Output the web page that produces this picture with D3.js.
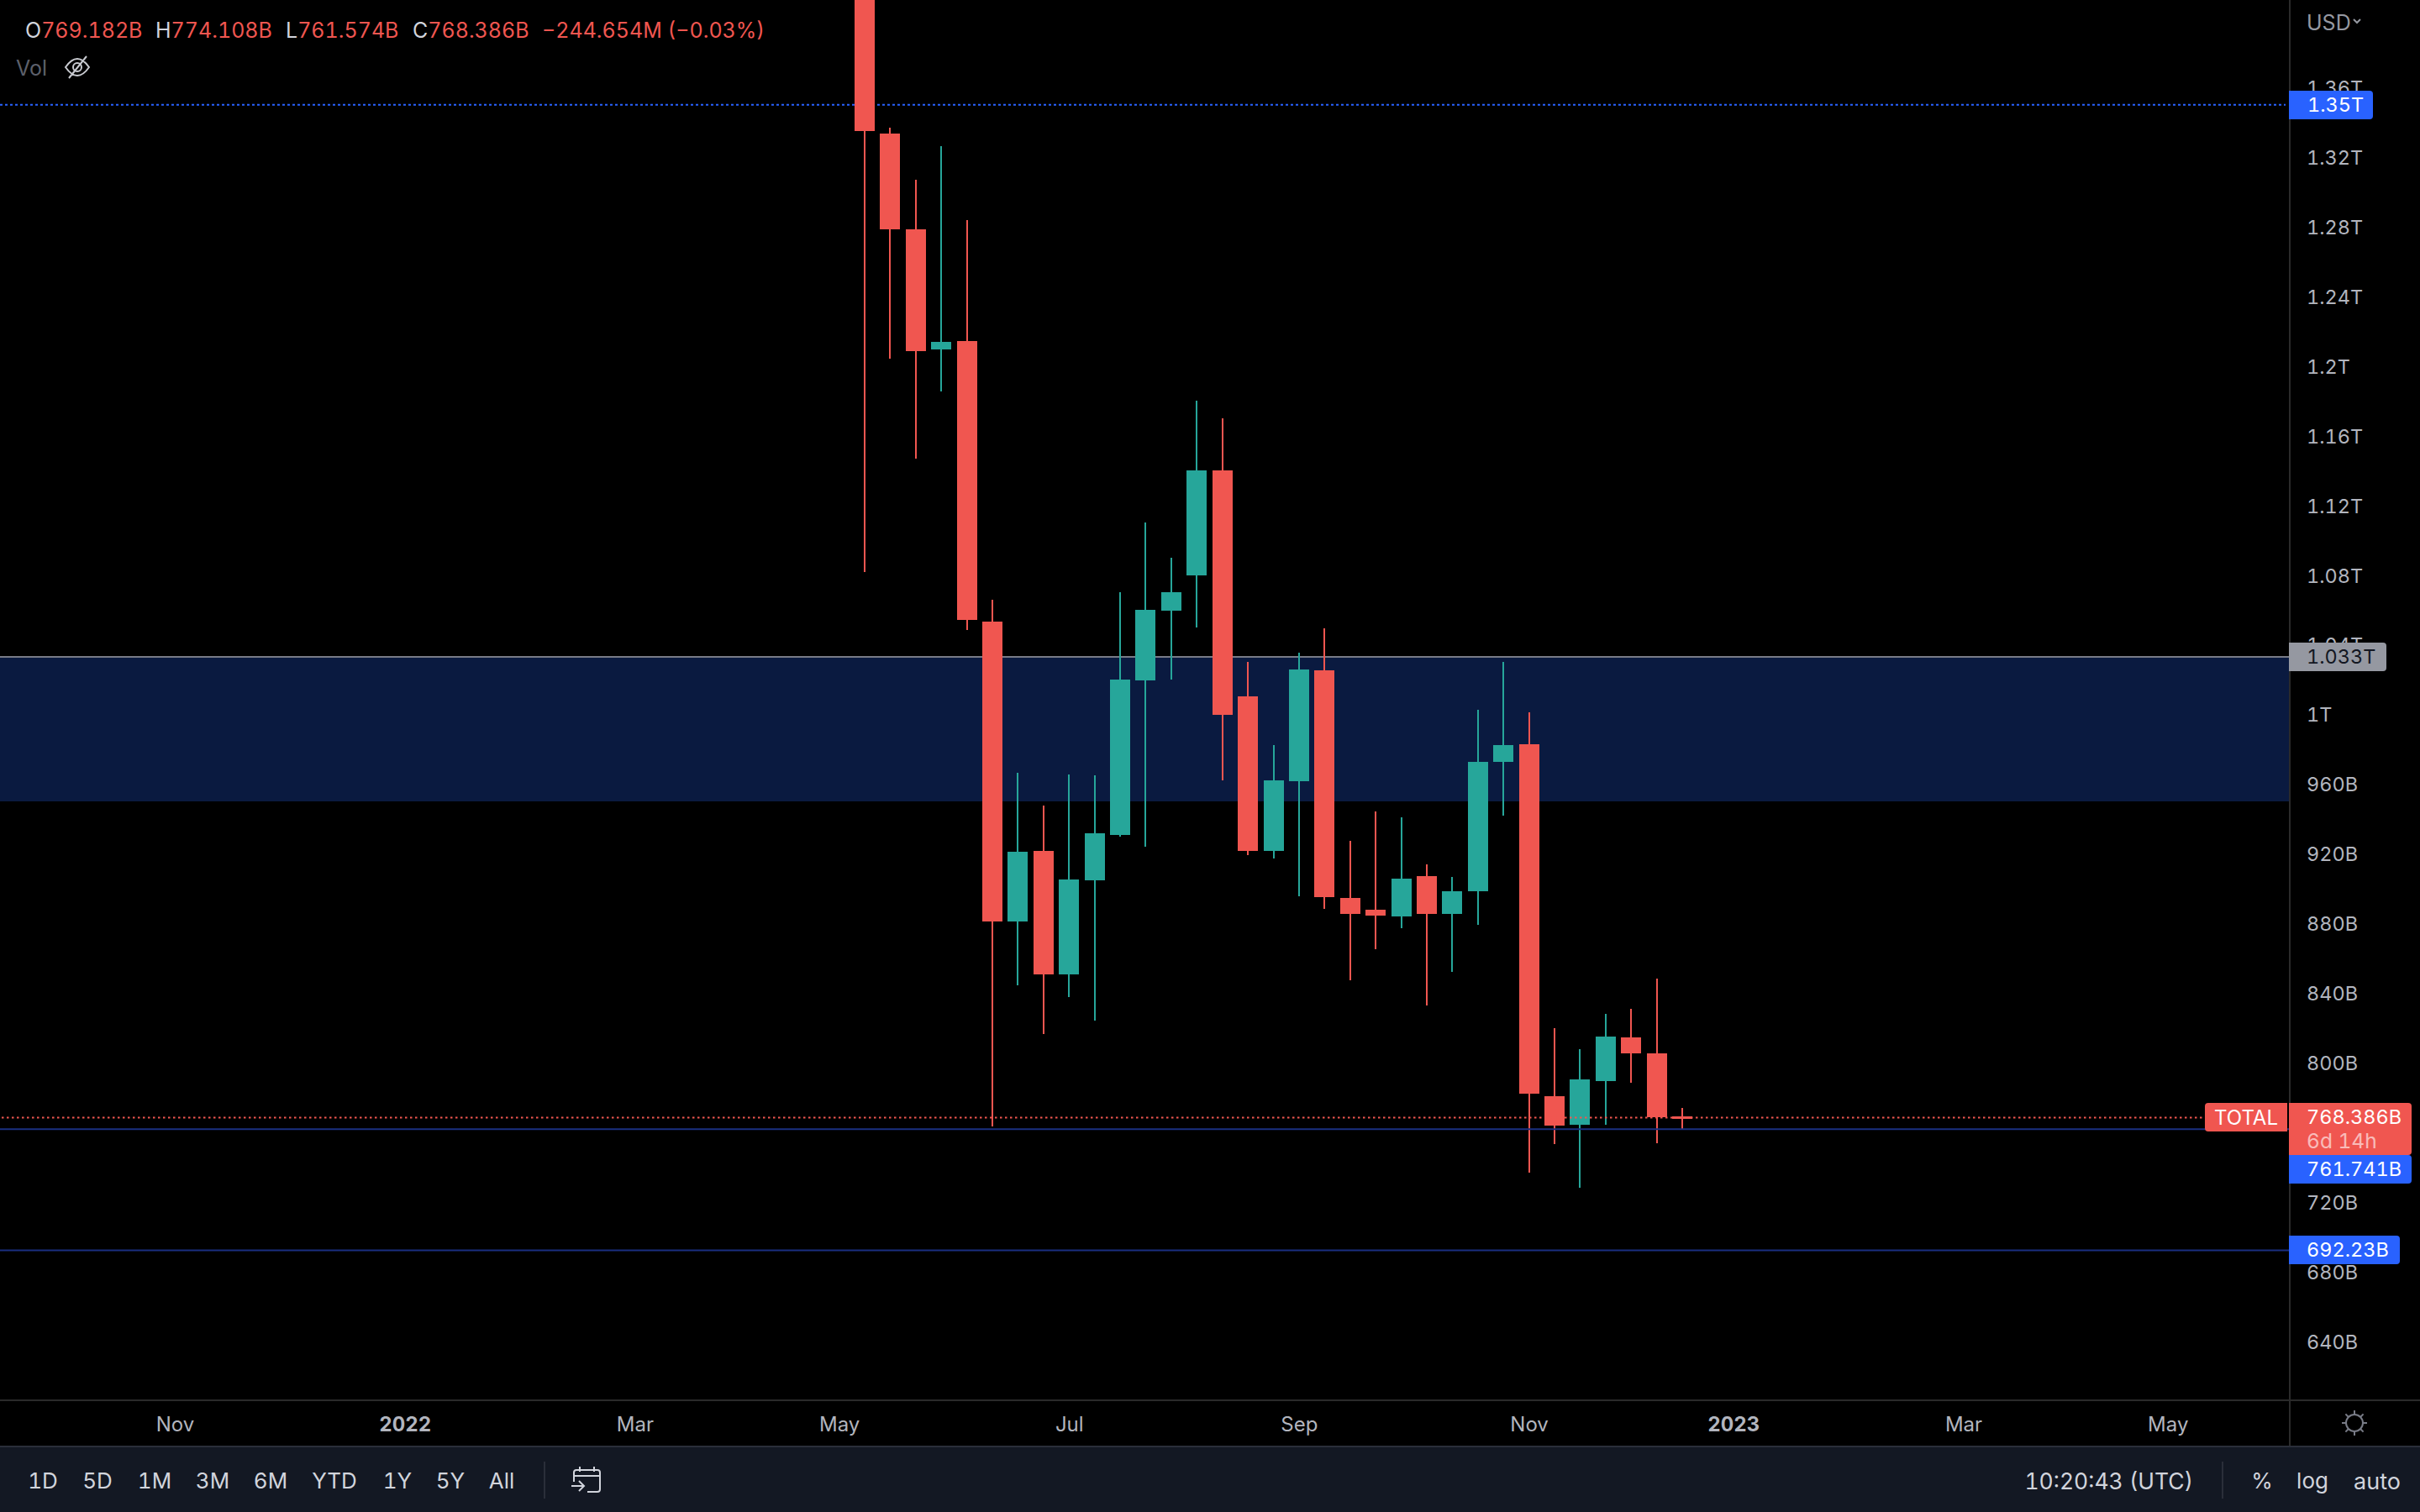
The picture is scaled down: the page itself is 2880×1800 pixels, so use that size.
<!DOCTYPE html>
<html>
<head>
<meta charset="utf-8">
<script src="https://cdn.jsdelivr.net/npm/d3@7"></script>
<style>
  html, body { margin: 0; padding: 0; background: #000; overflow: hidden; }
  text { font-family: "Inter", "Liberation Sans", sans-serif; font-variant-numeric: tabular-nums; font-feature-settings: "tnum" 1; }
  .tick line, .domain { display: none; }
</style>
</head>
<body>
<script>
// weekly candles, values in billions USD
var dates = ["2022-05-02","2022-05-09","2022-05-16","2022-05-23","2022-05-30","2022-06-06","2022-06-13",
    "2022-06-20","2022-06-27","2022-07-04","2022-07-11","2022-07-18","2022-07-25","2022-08-01","2022-08-08",
    "2022-08-15","2022-08-22","2022-08-29","2022-09-05","2022-09-12","2022-09-19","2022-09-26","2022-10-03",
    "2022-10-10","2022-10-17","2022-10-24","2022-10-31","2022-11-07","2022-11-14","2022-11-21","2022-11-28",
    "2022-12-05","2022-12-12"];
var opens = [1480,1333.5,1278.5,1209.6,1214.4,1053.3,881,921.6,850.7,904.7,930.7,1019.5,1059.5,1079.8,1140.1,
    1010.3,921.6,961.6,1025.3,894.6,887.8,883.9,907.1,885.4,898.4,972.7,982.8,780.7,764.3,789.4,814.5,805.3,769.182];
var highs = [1490,1336.9,1307,1326.3,1283.8,1065.8,966.4,947.6,965.5,965,1070.1,1110.2,1089.9,1180.1,1170,
    1030.1,982.3,1035.4,1049.4,927.4,944.2,940.9,913.8,906.6,1002.6,1030.1,1001.2,819.8,807.7,828,830.9,848.2,774.108];
var lows = [1081.7,1204.3,1146.8,1185.4,1048.4,763.3,844.4,816.4,837.6,824.1,929.8,924,1020,1049.9,962.1,
    919.2,917.2,895.5,888.3,847.3,865.1,877.2,832.8,852.1,879.1,941.8,736.8,753.2,728.1,764.3,788.4,753.7,761.574];
var closes = [1334.7,1278.5,1208.6,1213.9,1054.2,881,921.1,850.7,905.2,931.7,1020,1060,1070.1,1140.1,999.7,
    921.6,962.1,1025.8,895,885.4,884.4,905.6,885.4,898.4,972.7,982.3,782.2,763.8,790.4,815,805.3,768.6,768.386];

var priceTicks = [640,680,720,760,800,840,880,920,960,1000,1040,1080,1120,1160,1200,1240,1280,1320,1360];
var timeTickDates = ["2021-10-25","2021-12-27","2022-02-28","2022-04-25","2022-06-27","2022-08-29","2022-10-31",
    "2022-12-26","2023-02-27","2023-04-24"];
var timeTickLabels = ["Nov","2022","Mar","May","Jul","Sep","Nov","2023","Mar","May"];
var rangeButtons = ["1D","5D","1M","3M","6M","YTD","1Y","5Y","All"];
var rangeButtonX = [51,116,184,253,322,398,473,536,597];
var zone = [950, 1033];
var resistance = 1350, support1 = 761.741, support2 = 692.23, lastPrice = 768.386;

var width = 2880, height = 1800, paneRight = 2725, paneBottom = 1667, axisBottom = 1722;
var red = "#f05650", green = "#26a69a", blue = "#2962ff", textGrey = "#b2b5be";

var parse = d3.utcParse("%Y-%m-%d");

var x = d3.scaleUtc().domain([parse("2022-05-02"), parse("2022-12-12")]).range([1029, 2002]);
var y = d3.scaleLinear().domain([800, 1360]).range([1265, 104]);

var candles = dates.map((d, i) => ({ date: parse(d), o: opens[i], h: highs[i], l: lows[i], c: closes[i] }));

var svg = d3.select("body").append("svg")
    .attr("width", width)
    .attr("height", height)
    .style("display", "block");

svg.append("rect").attr("width", width).attr("height", height).attr("fill", "#000");

svg.append("clipPath").attr("id", "clip")
    .append("rect").attr("width", paneRight).attr("height", paneBottom);

var pane = svg.append("g").attr("clip-path", "url(#clip)");

// blue zone
pane.append("rect")
    .attr("x", 0).attr("width", paneRight)
    .attr("y", y(zone[1])).attr("height", y(zone[0]) - y(zone[1]))
    .attr("fill", "#0a1a40");
pane.append("line")
    .attr("x1", 0).attr("x2", paneRight)
    .attr("y1", y(zone[1])).attr("y2", y(zone[1]))
    .attr("stroke", "#787b86").attr("stroke-width", 2);

pane.append("line")
    .attr("x1", 0).attr("x2", 2720)
    .attr("y1", y(resistance)).attr("y2", y(resistance))
    .attr("stroke", blue).attr("stroke-width", 2).attr("stroke-dasharray", "3 3");

var candle = pane.selectAll(".candle")
    .data(candles)
    .enter()
    .append("g")
    .attr("class", "candle")
    .attr("fill", d => d.c >= d.o ? green : red);

candle.append("rect")
    .attr("x", d => Math.round(x(d.date)) - 1)
    .attr("width", 2)
    .attr("y", d => Math.round(y(d.h)))
    .attr("height", d => Math.round(y(d.l)) - Math.round(y(d.h)));

candle.append("rect")
    .attr("x", d => Math.round(x(d.date)) - 12)
    .attr("width", 24)
    .attr("y", d => Math.round(y(Math.max(d.o, d.c))))
    .attr("height", d => Math.max(3, Math.round(y(Math.min(d.o, d.c))) - Math.round(y(Math.max(d.o, d.c)))));

[support1, support2].forEach(v => {
    pane.append("line")
        .attr("x1", 0).attr("x2", paneRight)
        .attr("y1", y(v)).attr("y2", y(v))
        .attr("stroke", "#1a2f80").attr("stroke-width", 2);
});

pane.append("line")
    .attr("x1", 2).attr("x2", 2624)
    .attr("y1", y(lastPrice)).attr("y2", y(lastPrice))
    .attr("stroke", red).attr("stroke-width", 2).attr("stroke-dasharray", "2.5 3.5");

// frame lines
svg.append("rect").attr("x", paneRight - 1).attr("width", 2).attr("height", axisBottom).attr("fill", "#2a2a2a");
svg.append("rect").attr("y", paneBottom - 1).attr("width", width).attr("height", 2).attr("fill", "#2a2a2a");

// axes
var yAxis = d3.axisRight(y)
    .tickValues(priceTicks)
    .tickSize(0)
    .tickPadding(0)
    .tickFormat(d => d >= 1000 ? (d / 1000) + "T" : d + "B");

svg.append("g")
    .attr("transform", "translate(2745,1)")
    .call(yAxis)
    .call(g => g.selectAll("text")
        .attr("fill", textGrey)
        .style("font-family", "Inter")
        .style("font-size", "23.5px"));

var xAxis = d3.axisBottom(x)
    .tickValues(timeTickDates.map(parse))
    .tickSize(0)
    .tickPadding(0)
    .tickFormat((d, i) => timeTickLabels[i]);

svg.append("g")
    .attr("transform", "translate(0,1687)")
    .call(xAxis)
    .call(g => g.selectAll("text")
        .attr("fill", textGrey)
        .attr("dy", "0.71em")
        .attr("y", 0)
        .style("font-family", "Inter")
        .style("font-size", "24px")
        .style("font-weight", (d, i) => /^\d/.test(timeTickLabels[i]) ? 700 : 400));

// bottom toolbar
svg.append("rect").attr("y", axisBottom).attr("width", width).attr("height", height - axisBottom).attr("fill", "#131823");
svg.append("rect").attr("y", axisBottom - 1).attr("width", width).attr("height", 2).attr("fill", "#2a2e39");

function label(text, xPos, yPos, anchor, color, size, opacity) {
    return svg.append("text")
        .attr("x", xPos).attr("y", yPos)
        .attr("dy", "0.36em")
        .attr("text-anchor", anchor || "start")
        .attr("fill", color || textGrey)
        .attr("font-size", size || 23.5)
        .attr("opacity", opacity == null ? 1 : opacity)
        .text(text);
}

rangeButtons.forEach((b, i) => label(b, rangeButtonX[i], 1763, "middle", "#d1d4dc", 26));
label("10:20:43 (UTC)", 2610, 1763, "end", "#d1d4dc", 26.5);
label("%", 2692, 1763, "middle", "#d1d4dc", 26);
label("log", 2752, 1763, "middle", "#d1d4dc", 26);
label("auto", 2829, 1763, "middle", "#d1d4dc", 27);

svg.append("rect").attr("x", 647).attr("y", 1740).attr("width", 2).attr("height", 44).attr("fill", "#2a2e39");
svg.append("rect").attr("x", 2644).attr("y", 1740).attr("width", 2).attr("height", 44).attr("fill", "#2a2e39");

// calendar icon
svg.append("path")
    .attr("d", "M683 1764V1753Q683 1750 686 1750H711Q714 1750 714 1753V1773Q714 1776 711 1776H699M683 1757H714M690 1746V1752M707 1746V1752M680 1769H695M689 1763L695 1769L689 1775")
    .attr("fill", "none").attr("stroke", "#d1d4dc").attr("stroke-width", 2);

// theme (sun) icon
var sun = svg.append("g").attr("transform", "translate(2802,1694)")
    .attr("fill", "none").attr("stroke", "#787b86").attr("stroke-width", 2);
sun.append("circle").attr("r", 10);
d3.range(8).forEach(i => sun.append("line").attr("x1", 0).attr("x2", 0).attr("y1", -10).attr("y2", -15)
    .attr("transform", "rotate(" + i * 45 + ")"));

// price labels
function tag(xPos, yPos, w, h, rl, rr, fill) {
    svg.append("path")
        .attr("d", "M" + (xPos + rl) + " " + yPos + "H" + (xPos + w - rr)
            + "Q" + (xPos + w) + " " + yPos + " " + (xPos + w) + " " + (yPos + rr)
            + "V" + (yPos + h - rr)
            + "Q" + (xPos + w) + " " + (yPos + h) + " " + (xPos + w - rr) + " " + (yPos + h)
            + "H" + (xPos + rl)
            + "Q" + xPos + " " + (yPos + h) + " " + xPos + " " + (yPos + h - rl)
            + "V" + (yPos + rl)
            + "Q" + xPos + " " + yPos + " " + (xPos + rl) + " " + yPos + "Z")
        .attr("fill", fill);
}

tag(2724, 108, 100, 34, 0, 4, blue);
label("1.35T", 2746, 125, "start", "#fff");
tag(2724, 765, 116, 34, 0, 4, "#9598a1");
label("1.033T", 2745, 782, "start", "#131722");
tag(2624, 1313, 98, 34, 4, 0, red);
label("TOTAL", 2673, 1330, "middle", "#fff", 24);
tag(2724, 1375, 146, 34, 0, 4, blue);
label("761.741B", 2745, 1392, "start", "#fff");
tag(2724, 1313, 146, 62, 0, 4, red);
label("768.386B", 2745, 1330, "start", "#fff");
label("6d 14h", 2745, 1358, "start", "#fff", 24.5, 0.6);
tag(2724, 1471, 132, 34, 0, 4, blue);
label("692.23B", 2745, 1488, "start", "#fff");

// header
label("USD", 2745, 27, "start", "#9598a1", 25);
svg.append("path").attr("d", "M2801 23L2805 27L2809 23")
    .attr("fill", "none").attr("stroke", "#9598a1").attr("stroke-width", 2);

var ohlc = [["O", "769.182B", 30], ["H", "774.108B", 185], ["L", "761.574B", 340], ["C", "768.386B", 491]];
ohlc.forEach(d => {
    svg.append("text").attr("x", d[2]).attr("y", 36).attr("dy", "0.36em").attr("font-size", 25)
        .call(t => t.append("tspan").attr("fill", "#d1d4dc").text(d[0]))
        .call(t => t.append("tspan").attr("fill", red).text(d[1]));
});
label("\u2212244.654M (\u22120.03%)", 645, 36, "start", red, 25);
label("Vol", 19, 81, "start", "#5d606b", 25);

// hidden-volume eye icon
svg.append("path")
    .attr("d", "M78 80Q85 70 92 70Q99 70 106 80Q99 90 92 90Q85 90 78 80ZM87 80A5 5 0 1 1 97 80A5 5 0 1 1 87 80ZM82 93L103 67")
    .attr("fill", "none").attr("stroke", "#c8cad0").attr("stroke-width", 2);
</script>
</body>
</html>
